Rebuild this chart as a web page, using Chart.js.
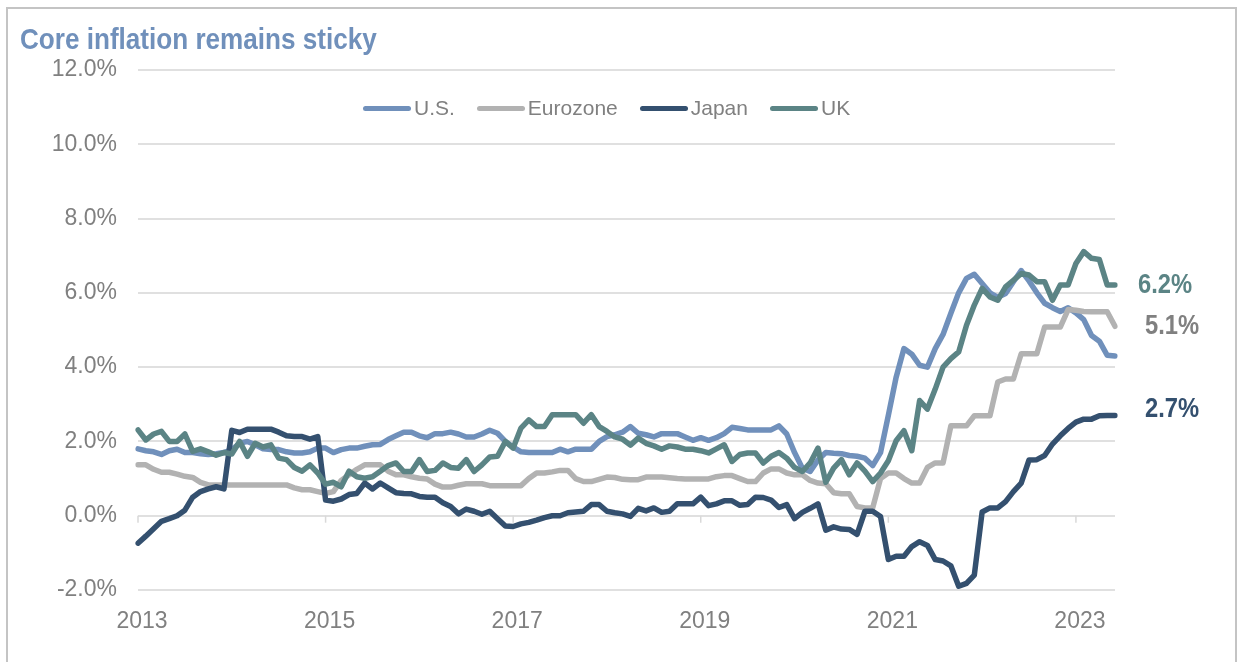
<!DOCTYPE html>
<html>
<head>
<meta charset="utf-8">
<title>Core inflation remains sticky</title>
<script src="https://cdn.jsdelivr.net/npm/chart.js@4.4.0/dist/chart.umd.min.js"></script>
<style>
  body { margin: 0; background: #fff; overflow: hidden; }
  #wrap { position: relative; width: 1240px; height: 662px; }
  #frame { position: absolute; left: 6px; top: 7px; width: 1231px; height: 700px; border: 2px solid #c4c4c4; box-sizing: border-box; }
  #title { position: absolute; left: 20px; top: 24px; font: bold 30px/30px "Liberation Sans", Arial, sans-serif; color: #7090bb; white-space: nowrap; transform: scaleX(0.87); transform-origin: left top; }
  #legend { position: absolute; left: 363px; top: 96px; height: 24px; display: flex; align-items: center; font: 21px "Liberation Sans", Arial, sans-serif; color: #808080; }
  .item { display: flex; align-items: center; margin-right: 22px; }
  .swatch { width: 48px; height: 5px; border-radius: 3px; margin-right: 3px; }
  canvas { position: absolute; left: 0; top: 0; }
</style>
</head>
<body>
<div id="wrap">
  <canvas id="chart" width="1240" height="662"></canvas>
  <div id="frame"></div>
  <div id="title">Core inflation remains sticky</div>
  <div id="legend"></div>
</div>
<script>
// Mensual, de ene-2013 a jun-2023 (núcleo de inflación, % a/a)
const months = [];
for (let y = 2013; y <= 2023; y++) {
    for (let m = 1; m <= 12; m++) {
        if (y === 2023 && m > 6) break;
        months.push(y + '-' + String(m).padStart(2, '0'));
    }
}
const tickLabels = ['2013', '2015', '2017', '2019', '2021', '2023'];
const seriesNames = ['U.S.', 'Eurozone', 'Japan', 'UK'];

const us = [
    1.80,1.75,1.72,1.65,1.75,1.79,1.70,1.70,1.67,1.65,
    1.67,1.70,1.78,1.95,2.00,1.91,1.80,1.78,1.78,1.72,
    1.69,1.69,1.72,1.82,1.82,1.70,1.78,1.82,1.82,1.87,
    1.91,1.92,2.05,2.15,2.25,2.25,2.15,2.10,2.21,2.21,
    2.25,2.20,2.12,2.12,2.20,2.30,2.22,2.00,1.85,1.72,
    1.70,1.70,1.70,1.70,1.79,1.72,1.79,1.79,1.79,2.00,
    2.13,2.18,2.25,2.40,2.22,2.18,2.12,2.21,2.21,2.21,
    2.12,2.03,2.10,2.03,2.10,2.21,2.38,2.35,2.31,2.31,
    2.31,2.31,2.42,2.20,1.70,1.28,1.19,1.50,1.70,1.68,
    1.67,1.62,1.60,1.55,1.35,1.70,2.70,3.73,4.50,4.35,
    4.05,4.00,4.50,4.88,5.45,6.00,6.39,6.50,6.25,6.00,
    5.88,5.98,6.30,6.60,6.32,6.00,5.72,5.60,5.50,5.60,
    5.46,5.28,4.85,4.70,4.32,4.30
];
const eurozone = [
    1.37,1.37,1.25,1.17,1.17,1.12,1.06,1.03,0.90,0.83,
    0.83,0.83,0.83,0.83,0.83,0.83,0.83,0.83,0.83,0.83,
    0.75,0.70,0.70,0.65,0.60,0.65,0.95,1.10,1.25,1.37,
    1.37,1.37,1.20,1.10,1.10,1.05,1.01,0.99,0.85,0.77,
    0.77,0.82,0.86,0.86,0.86,0.81,0.81,0.81,0.81,0.81,
    1.00,1.15,1.15,1.18,1.22,1.22,1.00,0.92,0.92,0.98,
    1.04,1.03,0.98,0.97,0.97,1.04,1.04,1.04,1.02,1.00,
    0.99,0.99,0.99,0.99,1.05,1.08,1.08,1.00,0.92,0.92,
    1.15,1.26,1.26,1.15,1.10,1.10,0.95,0.88,0.86,0.62,
    0.59,0.59,0.25,0.21,0.21,1.00,1.15,1.15,1.00,0.88,
    0.88,1.30,1.42,1.42,2.42,2.42,2.42,2.69,2.69,2.69,
    3.60,3.68,3.68,4.36,4.36,4.36,5.08,5.08,5.08,5.55,
    5.53,5.50,5.49,5.49,5.49,5.10
];
const japan = [
    -0.74,-0.55,-0.35,-0.15,-0.08,0.00,0.15,0.50,0.65,0.72,
    0.78,0.72,2.30,2.24,2.33,2.33,2.33,2.33,2.25,2.15,
    2.13,2.13,2.06,2.13,0.42,0.39,0.45,0.57,0.60,0.88,
    0.72,0.88,0.75,0.62,0.60,0.59,0.52,0.50,0.50,0.35,
    0.25,0.05,0.18,0.12,0.04,0.12,-0.08,-0.28,-0.29,-0.22,
    -0.18,-0.12,-0.05,0.00,0.00,0.08,0.10,0.12,0.30,0.30,
    0.12,0.08,0.05,-0.02,0.20,0.13,0.21,0.09,0.12,0.32,
    0.32,0.32,0.50,0.27,0.32,0.40,0.40,0.28,0.30,0.50,
    0.49,0.42,0.22,0.30,-0.08,0.09,0.20,0.32,-0.39,-0.30,
    -0.36,-0.37,-0.50,0.12,0.12,-0.02,-1.18,-1.09,-1.09,-0.83,
    -0.70,-0.80,-1.18,-1.22,-1.35,-1.90,-1.82,-1.60,0.10,0.21,
    0.21,0.38,0.65,0.88,1.50,1.51,1.62,1.93,2.15,2.35,
    2.52,2.60,2.60,2.69,2.70,2.70
];
const uk = [
    2.31,2.04,2.20,2.27,2.00,2.00,2.20,1.73,1.80,1.72,
    1.63,1.70,1.66,2.00,1.60,1.95,1.85,1.91,1.55,1.51,
    1.30,1.20,1.37,1.15,0.85,0.90,0.78,1.20,1.05,1.01,
    1.05,1.20,1.35,1.42,1.19,1.19,1.51,1.19,1.22,1.42,
    1.30,1.28,1.51,1.19,1.37,1.58,1.60,2.00,1.82,2.36,
    2.58,2.40,2.40,2.72,2.72,2.72,2.72,2.49,2.72,2.40,
    2.27,2.12,2.06,1.90,2.09,1.95,1.88,1.79,1.88,1.85,
    1.79,1.79,1.75,1.69,1.80,1.91,1.46,1.65,1.69,1.69,
    1.42,1.60,1.70,1.55,1.30,1.19,1.42,1.82,0.90,1.28,
    1.51,1.10,1.42,1.20,0.92,1.15,1.48,2.02,2.29,1.75,
    3.10,2.87,3.41,4.00,4.23,4.41,5.13,5.67,6.12,5.89,
    5.80,6.16,6.34,6.52,6.48,6.30,6.30,5.80,6.21,6.21,
    6.79,7.11,6.93,6.90,6.21,6.21
];

const colors = ['#7090bb', '#b2b2b2', '#34506f', '#5b8485'];
const labelColors = [null, '#808080', '#34506f', '#5b8485'];

const tickFont = { family: '"Liberation Sans", Arial, sans-serif', size: 23 };

// Rótulos finales (6.2%, 5.1%, 2.7%) y marcas del eje en 0%
const endLabels = {
    id: 'endLabels',
    beforeDatasetsDraw(chart) {
        const { ctx, scales } = chart;
        const y0 = scales.y.getPixelForValue(0);
        ctx.save();
        ctx.strokeStyle = '#d9d9d9';
        ctx.lineWidth = 1.5;
        months.forEach((mo, i) => {
            if (mo.endsWith('-01') && tickLabels.includes(mo.slice(0, 4))) {
                const x = scales.x.getPixelForValue(i);
                ctx.beginPath();
                ctx.moveTo(x, y0);
                ctx.lineTo(x, y0 + 7);
                ctx.stroke();
            }
        });
        ctx.restore();
    },
    afterDatasetsDraw(chart, args, opts) {
        const { ctx, chartArea, scales } = chart;
        chart.data.datasets.forEach((ds, i) => {
            const pos = opts.offsets[i];
            if (!pos) return;
            const last = ds.data[ds.data.length - 1];
            ctx.save();
            // letra estrecha: Liberation Sans comprimida en x
            ctx.translate(chartArea.right + pos.dx, scales.y.getPixelForValue(last) + pos.dy);
            ctx.scale(0.88, 1);
            ctx.font = 'bold 27px "Liberation Sans", Arial, sans-serif';
            ctx.textBaseline = 'middle';
            ctx.textAlign = 'left';
            ctx.fillStyle = labelColors[i];
            ctx.fillText(last.toFixed(1) + '%', 0, 0);
            ctx.restore();
        });
    }
};

const seriesValues = [us, eurozone, japan, uk];
const drawOrder = [4, 3, 2, 1];

const config = {
    type: 'line',
    data: {
        labels: months,
        datasets: seriesNames.map((name, i) => ({
            label: name,
            data: seriesValues[i],
            borderColor: colors[i],
            backgroundColor: colors[i],
            borderWidth: 5.5,
            borderCapStyle: 'round',
            borderJoinStyle: 'round',
            pointRadius: 0,
            tension: 0,
            order: drawOrder[i]
        }))
    },
    options: {
        responsive: false,
        animation: false,
        layout: { padding: { left: 0, right: 125, top: 70, bottom: 0 } },
        plugins: {
            legend: { display: false },
            tooltip: { enabled: false },
            endLabels: {
                offsets: [null, { dx: 30, dy: 0 }, { dx: 30, dy: -6 }, { dx: 23, dy: 0 }]
            }
        },
        scales: {
            x: {
                type: 'category',
                offset: false,
                grid: { display: false, drawTicks: false },
                border: { display: false },
                afterFit: scale => { scale.height = 72; },
                ticks: {
                    autoSkip: false,
                    maxRotation: 0,
                    padding: 18,
                    labelOffset: 4,
                    color: '#808080',
                    font: tickFont,
                    callback: function (val, idx) {
                        const mo = months[idx];
                        const yr = mo.slice(0, 4);
                        return (mo.endsWith('-01') && tickLabels.includes(yr)) ? yr : null;
                    }
                }
            },
            y: {
                min: -2,
                max: 12,
                afterFit: scale => { scale.width = 138; },
                grid: { color: '#e0e0e0', lineWidth: 2, drawTicks: false },
                border: { display: false },
                ticks: {
                    stepSize: 2,
                    padding: 21,
                    color: '#808080',
                    font: tickFont,
                    callback: v => v.toFixed(1) + '%'
                }
            }
        }
    },
    plugins: [endLabels]
};

window.onload = function () {
    const ctx = document.getElementById('chart').getContext('2d');
    const chart = new Chart(ctx, config);

    // Leyenda dentro del área del gráfico
    const legend = document.getElementById('legend');
    chart.data.datasets.forEach(ds => {
        const item = document.createElement('div');
        item.className = 'item';
        const sw = document.createElement('span');
        sw.className = 'swatch';
        sw.style.background = ds.borderColor;
        const txt = document.createElement('span');
        txt.innerText = ds.label;
        item.appendChild(sw);
        item.appendChild(txt);
        legend.appendChild(item);
    });
};
</script>
</body>
</html>
